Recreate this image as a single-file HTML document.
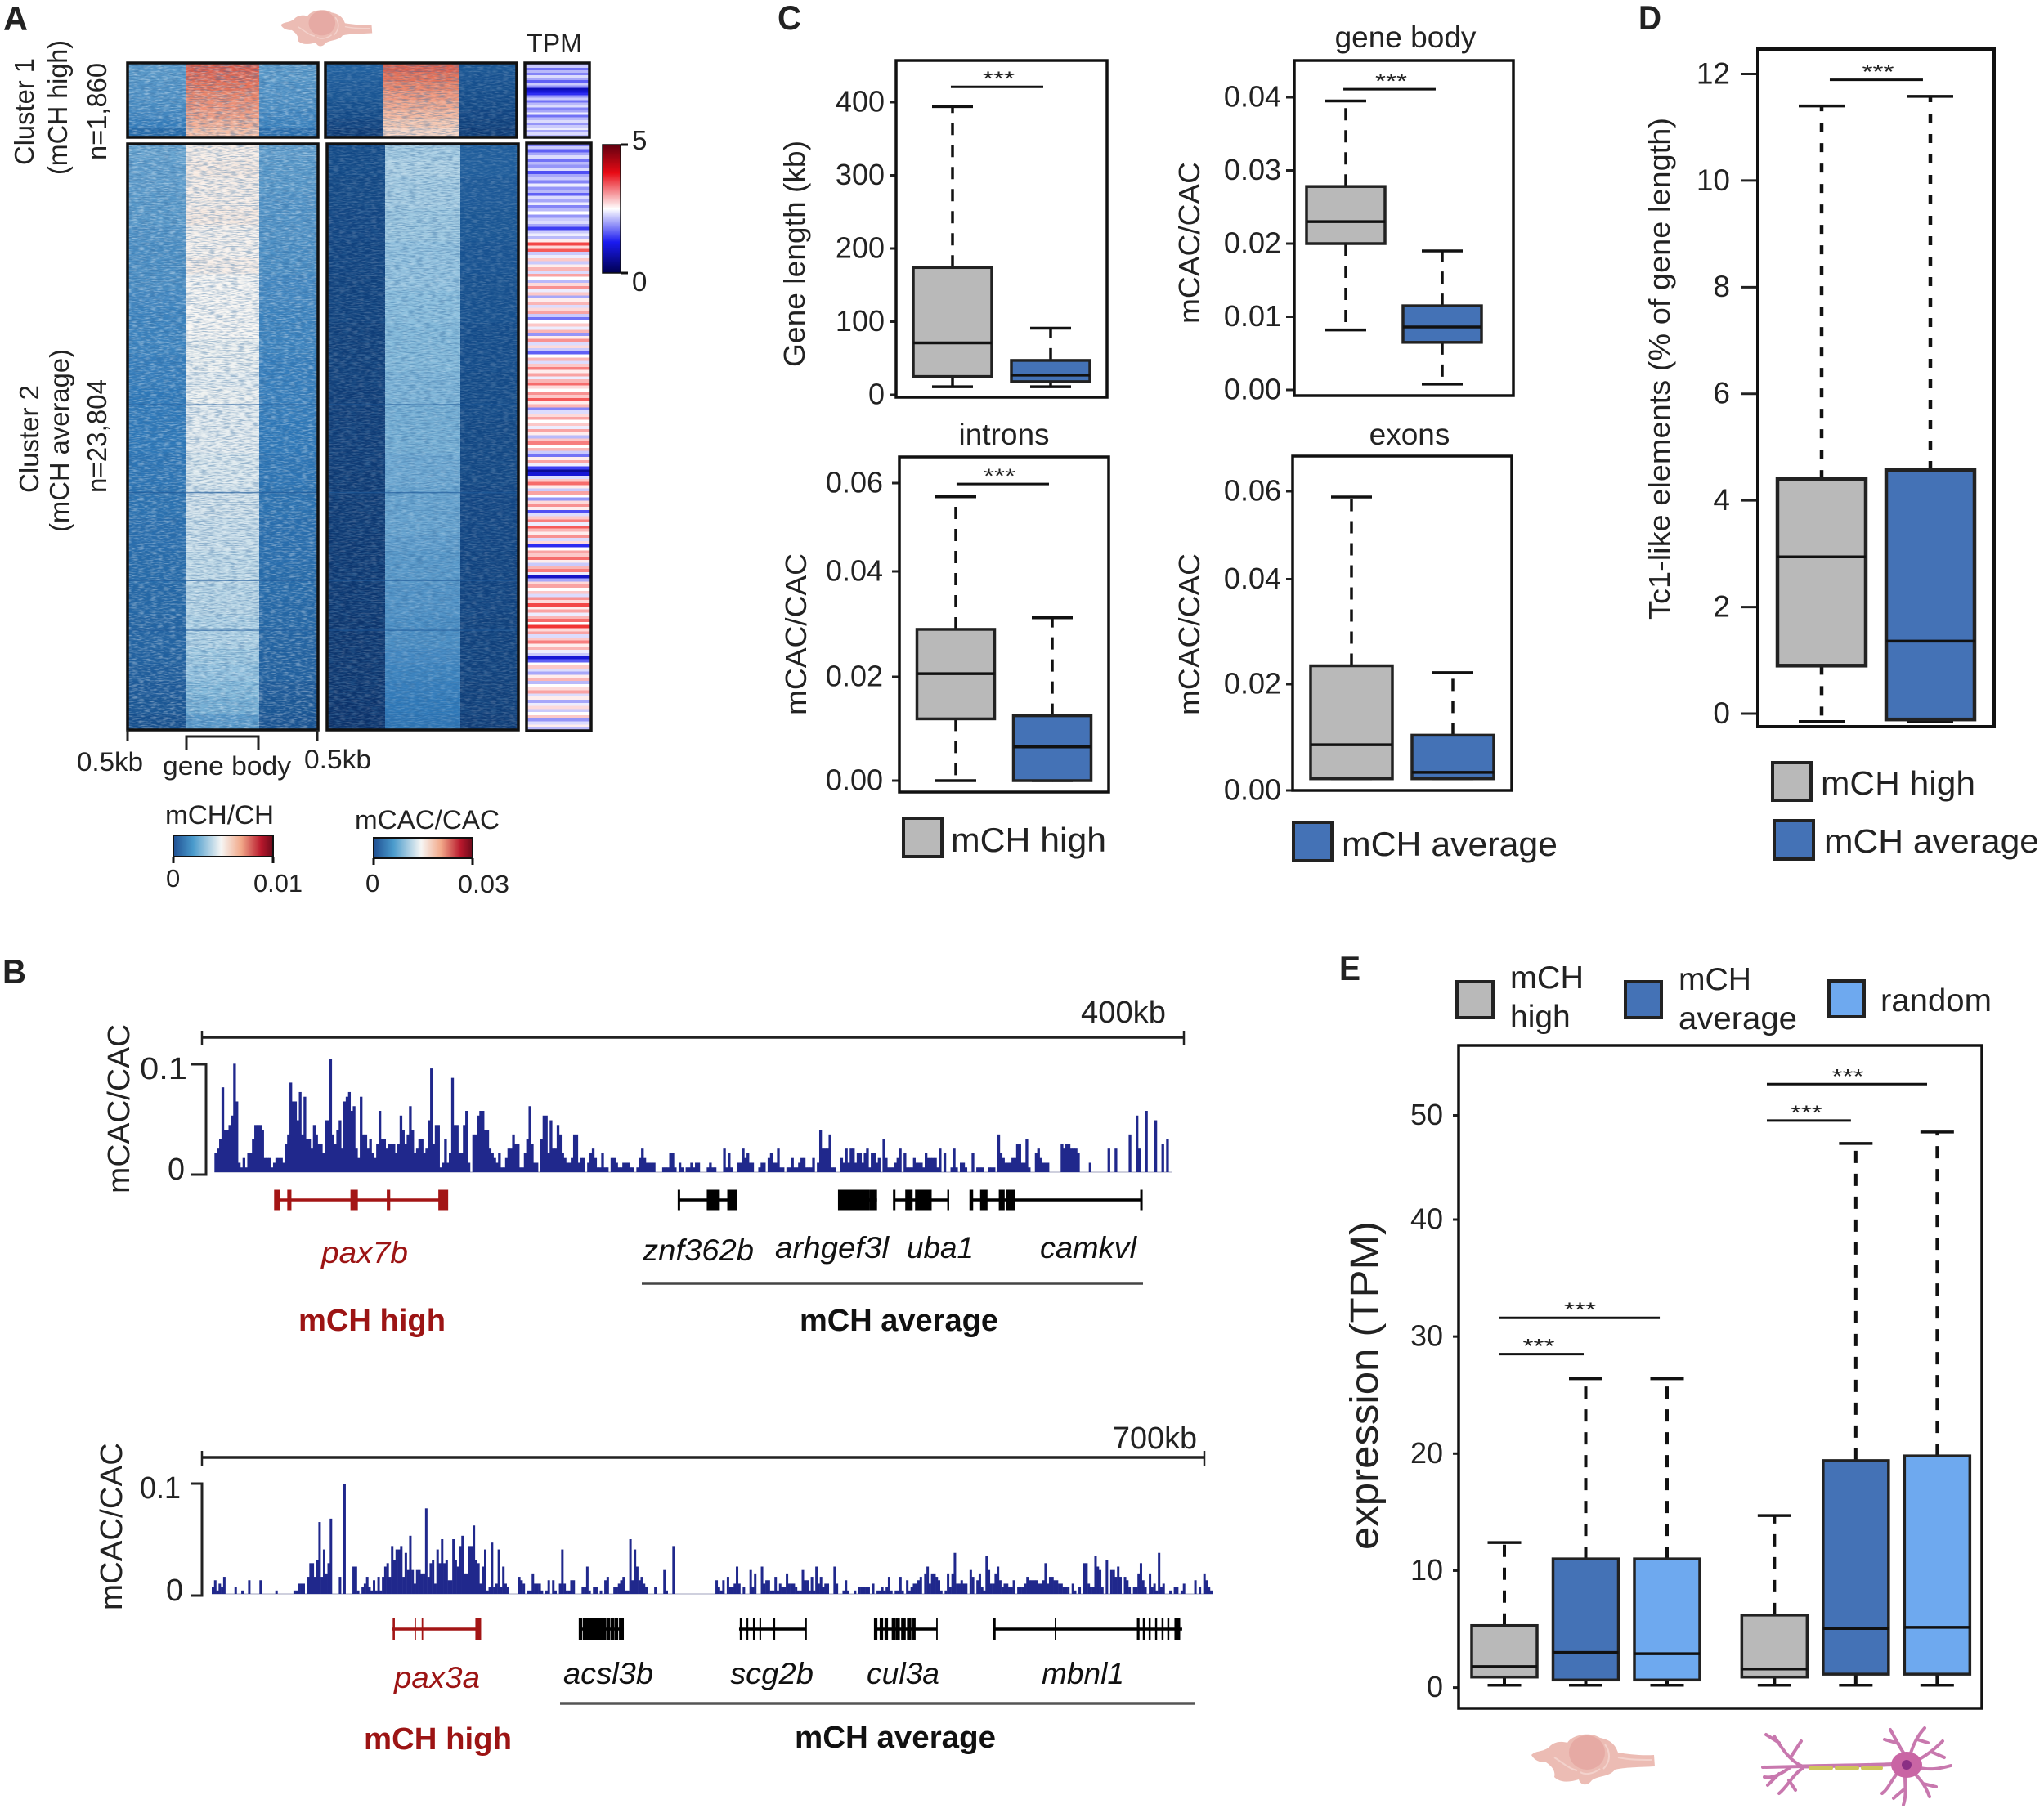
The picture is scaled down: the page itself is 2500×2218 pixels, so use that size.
<!DOCTYPE html>
<html lang="en">
<head>
<meta charset="utf-8">
<title>mCH high and mCH average gene clusters</title>
<style>
html,body{margin:0;padding:0;background:#fff;}
svg{display:block;}
text{font-family:"Liberation Sans",sans-serif;fill:#222;}
.ital{font-style:italic;fill:#111;}
.bold{font-weight:bold;}
.red{fill:#9c1414;}
</style>
</head>
<body>
<svg id="fig" xmlns="http://www.w3.org/2000/svg" width="2500" height="2218" viewBox="0 0 2500 2218">
<defs>
  <linearGradient id="gradMch" x1="0" x2="1" y1="0" y2="0">
    <stop offset="0" stop-color="#1f4f92"/><stop offset=".2" stop-color="#4a9bcc"/><stop offset=".48" stop-color="#f6f6f4"/><stop offset=".68" stop-color="#f2a98a"/><stop offset=".88" stop-color="#b8182c"/><stop offset="1" stop-color="#6b0a1a"/>
  </linearGradient>
  <linearGradient id="gradTpm" x1="0" x2="0" y1="0" y2="1">
    <stop offset="0" stop-color="#600010"/><stop offset=".22" stop-color="#e80a14"/><stop offset=".5" stop-color="#ffffff"/><stop offset=".76" stop-color="#1a1af0"/><stop offset="1" stop-color="#000050"/>
  </linearGradient>
  <filter id="noiseLight" x="0" y="0" width="100%" height="100%">
    <feTurbulence type="fractalNoise" baseFrequency="0.13 0.62" numOctaves="2" seed="4"/>
    <feColorMatrix type="matrix" values="0 0 0 0 1  0 0 0 0 1  0 0 0 0 1  3.6 0 0 0 -1.6"/>
  </filter>
  <filter id="noiseDark" x="0" y="0" width="100%" height="100%">
    <feTurbulence type="fractalNoise" baseFrequency="0.11 0.7" numOctaves="2" seed="11"/>
    <feColorMatrix type="matrix" values="0 0 0 0 .03  0 0 0 0 .14  0 0 0 0 .34  3.6 0 0 0 -1.55"/>
  </filter>
  <g id="brainShape">
    <path d="M2 27 C8 21 16 24 24 17 C30 10 40 10 46 12 C52 2 74 -2 86 6 C96 8 104 12 108 24 C120 26 136 28 152 27 L153 41 C134 42 116 42 104 45 C98 54 84 52 76 58 C70 66 62 64 60 57 C50 60 38 62 30 54 C32 46 26 40 20 36 C12 36 6 34 2 27 Z" fill="#ecbcb4"/>
    <ellipse cx="70" cy="24" rx="22" ry="21" fill="#e6aaa4"/>
    <path d="M30 30 C40 36 48 44 58 46 M92 14 C98 22 100 34 90 44 M62 48 C68 52 78 50 86 44 M108 30 C122 33 136 33 150 33" fill="none" stroke="#f3d2cc" stroke-width="2"/>
  </g>
</defs>

<rect width="2500" height="2218" fill="#fff"/>

<!-- Panel letters -->
<text class="bold" x="4" y="37" font-size="42" textLength="30" lengthAdjust="spacingAndGlyphs">A</text>
<text class="bold" x="3" y="1203" font-size="42" textLength="29" lengthAdjust="spacingAndGlyphs">B</text>
<text class="bold" x="951" y="36" font-size="42" textLength="29" lengthAdjust="spacingAndGlyphs">C</text>
<text class="bold" x="2004" y="36" font-size="42" textLength="28" lengthAdjust="spacingAndGlyphs">D</text>
<text class="bold" x="1638" y="1199" font-size="42" textLength="26" lengthAdjust="spacingAndGlyphs">E</text>

<!-- Panel A static -->
<use href="#brainShape" transform="translate(342 11) scale(.74 .72)"/>
<text x="644" y="64" font-size="32" textLength="68" lengthAdjust="spacingAndGlyphs">TPM</text>
<g id="panelA"></g>

<text transform="translate(41 202) rotate(-90)" font-size="33" textLength="131" lengthAdjust="spacingAndGlyphs">Cluster 1</text>
<text transform="translate(82 214) rotate(-90)" font-size="33" textLength="165" lengthAdjust="spacingAndGlyphs">(mCH high)</text>
<text transform="translate(130 196) rotate(-90)" font-size="33" textLength="119" lengthAdjust="spacingAndGlyphs">n=1,860</text>
<text transform="translate(47 603) rotate(-90)" font-size="33" textLength="132" lengthAdjust="spacingAndGlyphs">Cluster 2</text>
<text transform="translate(84 651) rotate(-90)" font-size="33" textLength="224" lengthAdjust="spacingAndGlyphs">(mCH average)</text>
<text transform="translate(130 603) rotate(-90)" font-size="33" textLength="139" lengthAdjust="spacingAndGlyphs">n=23,804</text>

<g fill="none" stroke="#222" stroke-width="3">
  <path d="M156 893V907M388 893V907M228 918V901H316V918"/>
</g>
<text x="94" y="943" font-size="32" textLength="81" lengthAdjust="spacingAndGlyphs">0.5kb</text>
<text x="372" y="940" font-size="32" textLength="82" lengthAdjust="spacingAndGlyphs">0.5kb</text>
<text x="199" y="948" font-size="32" textLength="157" lengthAdjust="spacingAndGlyphs">gene body</text>

<g>
  <rect x="737" y="177" width="22" height="157" fill="url(#gradTpm)" stroke="#111" stroke-width="1.5"/>
  <path d="M759 177H768M759 334H768" stroke="#111" stroke-width="3"/>
  <text x="773" y="183" font-size="33">5</text>
  <text x="773" y="356" font-size="33">0</text>
</g>
<g>
  <text x="202" y="1008" font-size="32" textLength="133" lengthAdjust="spacingAndGlyphs">mCH/CH</text>
  <rect x="212" y="1022" width="122" height="26" fill="url(#gradMch)" stroke="#111" stroke-width="2"/>
  <path d="M212 1048V1056M334 1048V1056" stroke="#111" stroke-width="3"/>
  <text x="203" y="1085" font-size="31">0</text>
  <text x="310" y="1091" font-size="31" textLength="60" lengthAdjust="spacingAndGlyphs">0.01</text>
</g>
<g>
  <text x="434" y="1014" font-size="32" textLength="177" lengthAdjust="spacingAndGlyphs">mCAC/CAC</text>
  <rect x="457" y="1025" width="121" height="25" fill="url(#gradMch)" stroke="#111" stroke-width="2"/>
  <path d="M457 1050V1058M578 1050V1058" stroke="#111" stroke-width="3"/>
  <text x="447" y="1091" font-size="31">0</text>
  <text x="560" y="1092" font-size="31" textLength="63" lengthAdjust="spacingAndGlyphs">0.03</text>
</g>

<!-- Panel C titles and legends -->
<text x="1719" y="58" font-size="37" text-anchor="middle">gene body</text>
<text x="1228" y="544" font-size="37" text-anchor="middle">introns</text>
<text x="1724" y="544" font-size="37" text-anchor="middle">exons</text>
<text transform="translate(984 449) rotate(-90)" font-size="36" textLength="277" lengthAdjust="spacingAndGlyphs">Gene length (kb)</text>
<text transform="translate(1467 396) rotate(-90)" font-size="36" textLength="198" lengthAdjust="spacingAndGlyphs">mCAC/CAC</text>
<text transform="translate(986 875) rotate(-90)" font-size="36" textLength="198" lengthAdjust="spacingAndGlyphs">mCAC/CAC</text>
<text transform="translate(1467 875) rotate(-90)" font-size="36" textLength="198" lengthAdjust="spacingAndGlyphs">mCAC/CAC</text>
<rect x="1105" y="1001" width="47" height="47" fill="#b9b9b9" stroke="#222" stroke-width="4"/>
<text x="1163" y="1042" font-size="42" textLength="190" lengthAdjust="spacingAndGlyphs">mCH high</text>
<rect x="1582" y="1006" width="47" height="47" fill="#4472b6" stroke="#222" stroke-width="4"/>
<text x="1641" y="1047" font-size="42" textLength="264" lengthAdjust="spacingAndGlyphs">mCH average</text>

<!-- Panel D -->
<text transform="translate(2042 758) rotate(-90)" font-size="36" textLength="614" lengthAdjust="spacingAndGlyphs">Tc1-like elements (% of gene length)</text>
<rect x="2168" y="933" width="47" height="46" fill="#b9b9b9" stroke="#222" stroke-width="4"/>
<text x="2227" y="972" font-size="41" textLength="189" lengthAdjust="spacingAndGlyphs">mCH high</text>
<rect x="2170" y="1004" width="48" height="47" fill="#4472b6" stroke="#222" stroke-width="4"/>
<text x="2231" y="1043" font-size="41" textLength="263" lengthAdjust="spacingAndGlyphs">mCH average</text>

<!-- Panel E -->
<rect x="1782" y="1201" width="44" height="44" fill="#b9b9b9" stroke="#222" stroke-width="4"/>
<text x="1847" y="1209" font-size="39" textLength="90" lengthAdjust="spacingAndGlyphs">mCH</text>
<text x="1847" y="1257" font-size="39">high</text>
<rect x="1988" y="1201" width="44" height="44" fill="#4472b6" stroke="#222" stroke-width="4"/>
<text x="2053" y="1211" font-size="39" textLength="89" lengthAdjust="spacingAndGlyphs">mCH</text>
<text x="2053" y="1259" font-size="39" textLength="145" lengthAdjust="spacingAndGlyphs">average</text>
<rect x="2237" y="1200" width="43" height="44" fill="#6ea9ef" stroke="#222" stroke-width="4"/>
<text x="2300" y="1237" font-size="39" textLength="136" lengthAdjust="spacingAndGlyphs">random</text>
<text transform="translate(1685 1896) rotate(-90)" font-size="48" textLength="402" lengthAdjust="spacingAndGlyphs">expression (TPM)</text>
<use href="#brainShape" transform="translate(1871 2120) scale(1 1)"/>
<g fill="none" stroke="#c878ae" stroke-linecap="round">
  <path d="M2205 2161C2250 2160 2290 2160 2325 2158" stroke-width="5"/>
  <path d="M2215 2163H2300" stroke="#cfc55a" stroke-width="6" stroke-dasharray="24 8"/>
  <path d="M2205 2161C2190 2155 2180 2140 2170 2124M2190 2150L2203 2130M2176 2132L2160 2122M2205 2161L2156 2162M2190 2162C2178 2170 2170 2176 2158 2174M2205 2163C2192 2172 2186 2186 2176 2194M2188 2178L2196 2190M2176 2170L2162 2184" stroke-width="4"/>
  <path d="M2332 2150C2322 2136 2318 2126 2312 2116M2322 2133L2305 2128M2336 2148C2340 2134 2345 2124 2354 2114M2345 2128L2358 2132M2344 2154C2356 2148 2366 2140 2376 2130M2362 2143L2378 2150M2345 2162C2360 2166 2372 2164 2386 2160M2342 2170C2352 2180 2356 2188 2360 2198M2352 2182L2368 2186M2330 2172C2330 2186 2332 2196 2328 2208M2330 2188L2316 2200M2320 2170C2312 2180 2310 2188 2302 2194" stroke-width="4"/>
</g>
<ellipse cx="2332" cy="2159" rx="19" ry="16" fill="#c965a4"/>
<circle cx="2332" cy="2159" r="6" fill="#8a2f84"/>

<!-- Panel B static -->
<g stroke="#222" fill="none">
  <path d="M247 1269H1448" stroke-width="3.5"/>
  <path d="M247 1261V1279M1448 1261V1279" stroke-width="2.5"/>
</g>
<text x="1322" y="1251" font-size="38" textLength="104" lengthAdjust="spacingAndGlyphs">400kb</text>
<text transform="translate(158 1460) rotate(-90)" font-size="38" textLength="207" lengthAdjust="spacingAndGlyphs">mCAC/CAC</text>
<g fill="none" stroke="#222" stroke-width="3"><path d="M234 1302H252V1437H234"/></g>
<text x="171" y="1320" font-size="38" textLength="58" lengthAdjust="spacingAndGlyphs">0.1</text>
<text x="205" y="1443" font-size="38" textLength="21" lengthAdjust="spacingAndGlyphs">0</text>
<g id="track1"></g>
<g id="genes1"></g>
<text class="ital red" x="393" y="1545" font-size="37" textLength="106" lengthAdjust="spacingAndGlyphs">pax7b</text>
<text class="ital" x="786" y="1542" font-size="37" textLength="136" lengthAdjust="spacingAndGlyphs">znf362b</text>
<text class="ital" x="948" y="1539" font-size="37" textLength="139" lengthAdjust="spacingAndGlyphs">arhgef3l</text>
<text class="ital" x="1109" y="1539" font-size="37" textLength="82" lengthAdjust="spacingAndGlyphs">uba1</text>
<text class="ital" x="1272" y="1539" font-size="37" textLength="118" lengthAdjust="spacingAndGlyphs">camkvl</text>
<path d="M785 1570H1398" stroke="#444" stroke-width="3.5"/>
<text class="bold red" x="365" y="1628" font-size="38" textLength="180" lengthAdjust="spacingAndGlyphs">mCH high</text>
<text class="bold" x="978" y="1628" font-size="38" textLength="243" lengthAdjust="spacingAndGlyphs" style="fill:#111">mCH average</text>

<g stroke="#222" fill="none">
  <path d="M247 1783H1473" stroke-width="3.5"/>
  <path d="M247 1775V1793M1473 1775V1793" stroke-width="2.5"/>
</g>
<text x="1361" y="1772" font-size="38" textLength="103" lengthAdjust="spacingAndGlyphs">700kb</text>
<text transform="translate(149 1970) rotate(-90)" font-size="38" textLength="205" lengthAdjust="spacingAndGlyphs">mCAC/CAC</text>
<g fill="none" stroke="#222" stroke-width="3"><path d="M233 1815H247V1952H233"/></g>
<text x="171" y="1833" font-size="38" textLength="50" lengthAdjust="spacingAndGlyphs">0.1</text>
<text x="203" y="1958" font-size="38" textLength="21" lengthAdjust="spacingAndGlyphs">0</text>
<g id="track2"></g>
<g id="genes2"></g>
<text class="ital red" x="482" y="2065" font-size="37" textLength="105" lengthAdjust="spacingAndGlyphs">pax3a</text>
<text class="ital" x="689" y="2060" font-size="37" textLength="110" lengthAdjust="spacingAndGlyphs">acsl3b</text>
<text class="ital" x="893" y="2060" font-size="37" textLength="102" lengthAdjust="spacingAndGlyphs">scg2b</text>
<text class="ital" x="1060" y="2060" font-size="37" textLength="89" lengthAdjust="spacingAndGlyphs">cul3a</text>
<text class="ital" x="1274" y="2060" font-size="37" textLength="101" lengthAdjust="spacingAndGlyphs">mbnl1</text>
<path d="M685 2084H1462" stroke="#555" stroke-width="3.5"/>
<text class="bold red" x="445" y="2140" font-size="38" textLength="181" lengthAdjust="spacingAndGlyphs">mCH high</text>
<text class="bold" x="972" y="2138" font-size="38" textLength="246" lengthAdjust="spacingAndGlyphs" style="fill:#111">mCH average</text>

<g id="panelBoxes"></g>
</svg>

<script>
/* ---------- Box plot values: [lower whisker, q1, median, q3, upper whisker] ---------- */
const geneLengthHigh = [11, 25, 71, 174, 394];
const geneLengthAverage = [11, 18, 27, 47, 91];
const geneLengthTicks = [0, 100, 200, 300, 400];
const geneLengthTickLabels = ['0', '100', '200', '300', '400'];

const geneBodyHigh = [0.0082, 0.020, 0.023, 0.0278, 0.0395];
const geneBodyAverage = [0.0008, 0.0065, 0.0086, 0.0115, 0.019];
const geneBodyTicks = [0, 0.01, 0.02, 0.03, 0.04];
const geneBodyTickLabels = ['0.00', '0.01', '0.02', '0.03', '0.04'];

const intronsHigh = [0, 0.0119, 0.0206, 0.029, 0.0569];
const intronsAverage = [0, 0, 0.0065, 0.0125, 0.0312];
const exonsHigh = [0.0022, 0.0022, 0.0086, 0.0235, 0.0587];
const exonsAverage = [0.0022, 0.0022, 0.0034, 0.0104, 0.0222];
const regionTicks = [0, 0.02, 0.04, 0.06];
const regionTickLabels = ['0.00', '0.02', '0.04', '0.06'];

const tc1High = [-0.15, 0.9, 2.94, 4.4, 11.4];
const tc1Average = [-0.15, -0.11, 1.36, 4.57, 11.58];
const tc1Ticks = [0, 2, 4, 6, 8, 10, 12];
const tc1TickLabels = ['0', '2', '4', '6', '8', '10', '12'];

const brainHigh = [0.2, 0.9, 1.8, 5.3, 12.4];
const brainAverage = [0.2, 0.65, 3.0, 11.0, 26.4];
const brainRandom = [0.2, 0.65, 2.9, 11.0, 26.4];
const neuronHigh = [0.2, 0.9, 1.6, 6.2, 14.7];
const neuronAverage = [0.2, 1.15, 5.05, 19.4, 47.3];
const neuronRandom = [0.2, 1.15, 5.15, 19.8, 48.4];
const expressionTicks = [0, 10, 20, 30, 40, 50];
const expressionTickLabels = ['0', '10', '20', '30', '40', '50'];

/* ---------- Genome track bin heights (integer signal levels) ---------- */
const track1Levels = [
4,5,7,18,9,9,10,12,23,15,2,1,3,1,4,4,7,10,10,10,9,3,3,3,1,2,3,3,3,2,6,8,19,15,15,11,17,8,16,7,7,5,10,8,6,6,4,11,11,24,
8,6,9,11,5,15,16,17,13,14,5,3,16,8,8,5,7,4,3,6,13,7,7,5,6,6,6,4,6,12,9,6,8,14,9,4,5,7,7,4,5,11,22,6,10,10,1,2,7,2,4,20,
10,10,4,4,10,13,2,0,8,8,12,13,13,9,9,5,4,3,2,4,1,1,3,5,5,8,6,6,1,1,4,7,14,6,2,2,0,7,12,12,4,11,5,5,10,8,4,3,2,2,3,8,8,2,3,3,0,2,4,5,3,1,1,4,1,1,0,3,3,2,1,1,2,2,2,1,1,0,1,3,5,3,2,2,2,2,0,0,0,1,1,1,4,4,1,0,2,1,0,1,1,2,1,2,2,0,0,0,1,2,1,1,0,0,0,5,1,4,1,0,0,2,2,5,3,4,2,2,0,0,1,2,2,0,3,4,2,2,5,1,1,0,1,1,3,1,1,2,3,3,1,1,1,3,
0,2,9,5,5,5,8,1,1,0,0,3,2,5,2,5,5,2,4,4,2,4,5,1,4,4,2,3,0,7,3,1,1,1,2,3,5,0,4,1,1,1,3,2,2,2,1,4,3,3,3,3,1,5,0,4,0,0,1,5,1,0,2,2,1,0,0,4,0,1,1,1,0,0,1,1,1,0,8,4,3,2,2,2,3,3,6,6,2,2,7,1,0,0,4,5,3,2,2,2,0,0,0,0,0,6,5,6,6,5,5,5,4,0,0,0,0,2,0,0,0,0,0,0,0,5,0,0,5,0,0,0,0,0,8,0,0,12,5,0,0,13,0,0,0,11,0,0,6,0,7];
const track1Step = 0.00437;

const track2Levels = [
2,4,1,3,2,5,0,0,0,0,2,0,0,1,0,0,4,0,0,0,0,4,0,0,0,0,0,0,1,0,0,0,0,0,0,0,1,1,3,3,3,0,5,9,9,5,10,21,5,13,6,9,22,0,0,0,5,0,32,0,0,0,8,8,1,0,2,3,5,2,1,4,1,5,1,5,8,9,5,14,10,13,13,14,5,12,7,17,7,3,7,7,6,6,25,5,9,10,3,13,9,16,9,10,4,4,16,10,8,14,17,6,6,14,14,20,10,9,3,8,13,1,2,15,2,3,13,2,8,3,2,0,0,0,0,5,4,3,0,1,1,6,3,3,3,1,0,
1,4,0,4,1,0,3,13,3,1,1,4,4,0,0,0,2,2,8,1,0,2,2,0,1,0,4,5,0,0,2,2,3,4,5,1,1,16,4,13,8,4,5,3,2,0,0,0,2,0,0,0,7,1,0,0,14,0,0,0,0,0,0,0,0,0,0,0,0,0,0,0,0,0,0,4,2,1,4,0,5,2,2,3,8,3,0,2,0,0,7,2,6,0,0,8,3,4,4,1,1,5,1,3,2,2,6,3,3,3,2,1,1,7,4,4,1,5,1,8,3,5,2,3,3,0,0,8,3,0,0,1,4,1,0,0,1,0,2,2,2,2,2,0,3,0,1,1,2,1,2,5,
1,0,1,1,5,1,0,4,1,2,3,3,4,5,0,6,8,3,6,6,5,4,1,0,1,6,2,6,12,3,3,4,3,3,0,7,5,0,4,6,2,1,11,7,3,3,6,8,4,2,3,3,2,2,4,0,2,2,2,3,5,4,4,4,4,3,3,4,9,3,5,5,4,4,3,3,2,2,2,0,3,1,0,2,0,9,9,3,2,2,11,8,7,2,0,10,0,7,7,5,8,5,0,5,4,2,0,2,2,6,9,4,2,0,6,2,3,1,12,2,3,0,0,1,0,2,2,0,1,3,0,0,0,0,4,0,2,0,6,4,2,1];
const track2Step = 0.003125;

/* ---------- Gene models: line [start, end] and exons [centre, width], in kb ---------- */
const pax7bLine = [30, 100];
const pax7bExons = [[30.6,2.4],[35.6,1.7],[62,3],[76,1.4],[98.3,4]];
const znf362bLine = [194, 218];
const znf362bExons = [[194.3,1],[208.3,5.3],[216,4]];
const arhgef3lLine = [259.5, 275];
const arhgef3lExons = [[260.5,2.8],[263.5,2.8],[265.8,2.6],[268.2,2.6],[270.5,2.6],[273.4,3.2]];
const uba1Line = [282, 304];
const uba1Exons = [[282,1],[288,3],[291.5,2],[294.6,5.3],[304,.8]];
const camkvlLine = [313, 382.7];
const camkvlExons = [[313.4,1.5],[318.5,3],[325.8,2.4],[329.4,3.5],[382.7,1]];

const pax3aLine = [133, 194.2];
const pax3aExons = [[134,1.5],[149,1],[154,1],[193,4]];
const acsl3bLine = [264.4, 294.7];
const acsl3bExons = [[264.4,2.4],[267.3,2.6],[269.6,2.6],[271.8,2.6],[274.1,2.6],[276.4,2.6],[278.7,2.6],[281,2.6],[283.8,2.6],[286.7,2.6],[289.5,2.6],[293,3.4]];
const scg2bLine = [375.2, 422];
const scg2bExons = [[376.4,1.4],[381,1.2],[385.5,1.2],[390,1.2],[399.8,1.2],[422,1]];
const cul3aLine = [469.5, 513.4];
const cul3aExons = [[470.6,2.4],[474.6,2.4],[478,2.4],[483.1,2.6],[486,3],[490,3.2],[494,3],[497.4,2.2],[513.4,1]];
const mbnl1Line = [553.4, 684.7];
const mbnl1Exons = [[553.4,2],[596.2,1],[654,1.8],[657.9,1.4],[662,1.4],[666.5,1.4],[671,1.4],[675,1.4],[681.3,4]];

/* ---------- Heatmap rows: [left flank, gene body, right flank], colour value 0–1 ---------- */
const mchCluster1Rows = [[.31,.80,.31],[.31,.78,.31],[.30,.76,.30],[.30,.73,.30],[.29,.71,.29],[.28,.69,.28],[.26,.66,.27],[.21,.63,.22]];
const mchCluster2Rows = [[.33,.52,.32],[.32,.53,.31],[.32,.52,.31],[.31,.52,.30],[.31,.53,.30],[.30,.51,.30],[.29,.51,.29],[.29,.52,.29],[.29,.50,.28],[.28,.50,.28],[.27,.50,.27],[.27,.50,.27],[.27,.49,.27],[.26,.49,.26],[.26,.48,.26],[.25,.49,.26],[.25,.48,.26],[.25,.48,.25],[.25,.48,.25],[.24,.47,.24],[.24,.47,.24],[.23,.46,.23],[.23,.46,.23],[.22,.45,.22],[.22,.45,.22],[.21,.44,.22],[.21,.44,.21],[.20,.43,.21],[.20,.43,.20],[.19,.42,.20],[.19,.42,.19],[.18,.40,.18],[.17,.39,.18],[.16,.37,.16],[.15,.35,.15],[.13,.31,.14]];
const mcacCluster1Rows = [[.18,.79,.15],[.17,.76,.14],[.16,.73,.13],[.15,.70,.12],[.13,.67,.11],[.11,.64,.09],[.08,.61,.07],[.05,.58,.05]];
const mcacCluster2Rows = [[.11,.41,.17],[.11,.42,.17],[.10,.41,.16],[.10,.41,.16],[.09,.40,.15],[.09,.40,.15],[.08,.39,.14],[.08,.39,.14],[.07,.39,.13],[.07,.38,.13],[.07,.38,.13],[.06,.37,.12],[.06,.37,.12],[.06,.37,.12],[.06,.36,.11],[.05,.36,.11],[.05,.35,.11],[.05,.35,.10],[.05,.35,.10],[.05,.34,.10],[.04,.34,.10],[.04,.33,.09],[.04,.33,.09],[.04,.33,.09],[.03,.32,.09],[.03,.31,.08],[.03,.31,.08],[.03,.30,.08],[.03,.30,.08],[.02,.29,.07],[.02,.29,.07],[.02,.28,.07],[.02,.27,.07],[.02,.26,.06],[.01,.25,.06],[.01,.24,.05]];
const heatDarkRowFractions = [0.445, 0.595, 0.745, 0.83];

/* ---------- TPM stripes (0–5) ---------- */
const tpmCluster1 = [1.9,2.2,1.7,2.1,1.8,2.3,2.0,1.6,2.2,1.9,0.8,1.0,1.3,1.9,2.2,1.7,2.1,2.3,1.8,2.0,2.4,1.7,2.1,2.3,1.9,2.2,2.4,2.0,2.3,2.1];
const tpmCluster2 = [
1.8,2.2,1.6,2.0,2.3,1.7,2.1,1.9,2.3,1.5,2.0,2.2,1.8,2.4,1.9,2.1,1.6,2.3,2.0,2.4,1.8,2.1,2.5,1.9,2.2,
2.3,2.0,1.4,2.2,2.4,2.1,2.6,3.5,2.7,3.4,2.2,
2.4,2.8,2.2,2.6,2.9,2.3,3.0,2.5,2.1,2.7,3.1,2.4,2.8,2.0,2.6,2.9,2.3,2.7,3.0,2.2,1.7,2.5,2.8,2.4,2.9,1.9,2.6,3.1,2.3,
2.7,2.2,1.6,2.5,2.9,2.3,2.8,3.2,2.6,3.0,2.4,2.9,3.3,2.7,2.5,3.1,2.8,3.4,2.6,2.9,1.8,2.3,2.7,3.0,2.5,2.8,
2.4,3.0,2.6,2.1,2.8,3.2,2.5,2.9,2.2,1.7,2.6,3.0,2.4,1.4,0.5,1.0,2.3,2.8,3.3,2.6,2.2,3.0,2.5,1.9,2.7,3.1,
2.6,1.5,2.3,2.8,3.2,2.4,3.4,2.9,2.6,3.1,2.3,2.7,1.3,2.5,3.0,2.8,3.3,2.6,2.2,2.9,3.2,2.4,0.9,2.0,2.7,3.0,
2.5,2.8,2.3,3.1,2.7,3.5,2.6,3.0,2.4,2.9,3.3,2.5,3.6,2.7,3.0,2.3,2.8,3.2,2.6,2.9,2.4,
2.2,1.0,1.6,2.5,2.8,2.3,2.0,2.6,2.9,2.1,2.5,2.7,3.0,2.3,2.6,2.0,2.4,2.7,2.2,2.5,2.8,1.9,2.3,2.6,2.1];

/* ---------- Helpers ---------- */
const NS = 'http://www.w3.org/2000/svg';
function add(parent, tag, attrs, name) {
  const el = document.createElementNS(NS, tag);
  
  
  for (const k in attrs) el.setAttribute(k, attrs[k]);
  parent.appendChild(el);
  return el;
}
function hexToRgb(h) { return [parseInt(h.slice(1,3),16), parseInt(h.slice(3,5),16), parseInt(h.slice(5,7),16)]; }
function colormap(stops) {
  return function (v) {
    if (v <= stops[0][0]) return stops[0][1];
    for (let i = 1; i < stops.length; i++) {
      if (v <= stops[i][0]) {
        const t = (v - stops[i-1][0]) / (stops[i][0] - stops[i-1][0]);
        const a = hexToRgb(stops[i-1][1]), b = hexToRgb(stops[i][1]);
        return 'rgb(' + a.map((c, j) => Math.round(c + (b[j] - c) * t)).join(',') + ')';
      }
    }
    return stops[stops.length-1][1];
  };
}
function piecewise(domain, range) {
  return function (v) {
    let i = 1;
    while (i < domain.length - 1 && v > domain[i]) i++;
    const t = (v - domain[i-1]) / (domain[i] - domain[i-1]);
    return range[i-1] + t * (range[i] - range[i-1]);
  };
}

/* ---------- Panel A ---------- */
const heatColor = colormap([[0,'#0a2f66'],[.12,'#134a88'],[.25,'#2f79b9'],[.38,'#8dc0de'],[.5,'#f7f5f2'],[.62,'#f7c4ab'],[.75,'#e8795e'],[.88,'#c12f30'],[1,'#6b0a1a']]);
const tpmColor = colormap([[0,'#000050'],[1.2,'#1a1af0'],[2.5,'#ffffff'],[3.8,'#f01010'],[5,'#600010']]);
const panelA = document.getElementById('panelA');

function drawHeat(rows, frame, bodyL, bodyR, name, darkFractions, lightOpacity) {
  const g = add(panelA, 'g', {}, name);
  const rowH = frame.h / rows.length;
  const edges = [frame.x, bodyL, bodyR, frame.x + frame.w];
  rows.forEach(function (row, r) {
    row.forEach(function (v, c) {
      add(g, 'rect', {x: edges[c], y: frame.y + r * rowH, width: edges[c+1] - edges[c], height: rowH + 0.6, fill: heatColor(v), 'shape-rendering': 'crispEdges'}, name + '-cell');
    });
  });
  add(g, 'rect', {x: frame.x, y: frame.y, width: frame.w, height: frame.h, filter: 'url(#noiseLight)', opacity: lightOpacity}, name + '-texture-light');
  add(g, 'rect', {x: frame.x, y: frame.y, width: frame.w, height: frame.h, filter: 'url(#noiseDark)', opacity: .4}, name + '-texture-dark');
  (darkFractions || []).forEach(function (f) {
    add(g, 'line', {x1: frame.x, x2: frame.x + frame.w, y1: frame.y + f * frame.h, y2: frame.y + f * frame.h, stroke: '#1f5a9a', 'stroke-width': 1.4, opacity: .65}, name + '-dark-row');
  });
  add(g, 'rect', {x: frame.x, y: frame.y, width: frame.w, height: frame.h, fill: 'none', stroke: '#111', 'stroke-width': 3.5}, name + '-frame');
}
function drawStripes(vals, frame, name) {
  const g = add(panelA, 'g', {}, name);
  const h = frame.h / vals.length;
  vals.forEach(function (v, i) {
    add(g, 'rect', {x: frame.x, y: frame.y + i * h, width: frame.w, height: h + 0.4, fill: tpmColor(v), 'shape-rendering': 'crispEdges'}, name + '-stripe');
  });
  add(g, 'rect', {x: frame.x, y: frame.y, width: frame.w, height: frame.h, fill: 'none', stroke: '#111', 'stroke-width': 3.5}, name + '-frame');
}
drawHeat(mchCluster1Rows, {x:156,y:77,w:233,h:91}, 227, 317, 'mch-heatmap-cluster1', null, .34);
drawHeat(mchCluster2Rows, {x:156,y:176,w:233,h:717}, 227, 317, 'mch-heatmap-cluster2', heatDarkRowFractions, .34);
drawHeat(mcacCluster1Rows, {x:398,y:77,w:234,h:91}, 469, 561, 'mcac-heatmap-cluster1', null, .18);
drawHeat(mcacCluster2Rows, {x:400,y:176,w:234,h:717}, 471, 563, 'mcac-heatmap-cluster2', heatDarkRowFractions, .18);
drawStripes(tpmCluster1, {x:642,y:77,w:79,h:91}, 'tpm-heatmap-cluster1');
drawStripes(tpmCluster2, {x:644,y:175,w:79,h:719}, 'tpm-heatmap-cluster2');

/* ---------- Box plot panels ---------- */
const COLOR_HIGH = '#b9b9b9', COLOR_AVG = '#4472b6', COLOR_RAND = '#6ea9ef';
const boxesRoot = document.getElementById('panelBoxes');

function drawBoxPanel(cfg) {
  const g = add(boxesRoot, 'g', {}, cfg.name);
  const y = piecewise(cfg.yDomain, cfg.yRange);
  const x = function (pos) { return cfg.x0 + pos * cfg.step; };
  add(g, 'rect', {x: cfg.frame[0], y: cfg.frame[1], width: cfg.frame[2], height: cfg.frame[3], fill: '#fff'}, cfg.name + '-plot-area');
  cfg.ticks.forEach(function (t, i) {
    add(g, 'line', {x1: cfg.frame[0] - cfg.tickLen, x2: cfg.frame[0], y1: y(t), y2: y(t), stroke: '#222', 'stroke-width': 3}, cfg.name + '-tick');
    const label = add(g, 'text', {x: cfg.frame[0] - cfg.tickLen - cfg.labelGap, y: y(t) + cfg.fontSize * 0.32, 'text-anchor': 'end', 'font-size': cfg.fontSize}, cfg.name + '-tick-label');
    label.textContent = cfg.tickLabels[i];
  });
  cfg.series.forEach(function (s) {
    const cx = x(s.pos), v = s.values;
    const sg = add(g, 'g', {}, cfg.name + '-' + s.label);
    add(sg, 'line', {x1: cx, x2: cx, y1: y(v[3]), y2: y(v[4]), stroke: '#111', 'stroke-width': cfg.whiskerW, 'stroke-dasharray': cfg.dash}, 'upper-whisker');
    add(sg, 'line', {x1: cx, x2: cx, y1: y(v[1]), y2: y(v[0]), stroke: '#111', 'stroke-width': cfg.whiskerW, 'stroke-dasharray': cfg.dash}, 'lower-whisker');
    add(sg, 'line', {x1: cx - cfg.capW / 2, x2: cx + cfg.capW / 2, y1: y(v[4]), y2: y(v[4]), stroke: '#111', 'stroke-width': 3.5}, 'upper-cap');
    add(sg, 'line', {x1: cx - cfg.capW / 2, x2: cx + cfg.capW / 2, y1: y(v[0]), y2: y(v[0]), stroke: '#111', 'stroke-width': 3.5}, 'lower-cap');
    add(sg, 'rect', {x: cx - cfg.boxW / 2, y: y(v[3]), width: cfg.boxW, height: Math.max(0, y(v[1]) - y(v[3])), fill: s.fill, stroke: '#222', 'stroke-width': cfg.boxStroke}, 'box');
    add(sg, 'line', {x1: cx - cfg.boxW / 2, x2: cx + cfg.boxW / 2, y1: y(v[2]), y2: y(v[2]), stroke: '#111', 'stroke-width': 3.5}, 'median');
  });
  add(g, 'rect', {x: cfg.frame[0], y: cfg.frame[1], width: cfg.frame[2], height: cfg.frame[3], fill: 'none', stroke: '#111', 'stroke-width': cfg.frameW}, cfg.name + '-frame');
  (cfg.sig || []).forEach(function (b) {
    add(g, 'line', {x1: x(b.from), x2: x(b.to), y1: y(b.at), y2: y(b.at), stroke: '#111', 'stroke-width': 3}, cfg.name + '-significance-bar');
    const star = add(g, 'text', {x: (x(b.from) + x(b.to)) / 2 + (b.starDx || 0), y: y(b.at) - 1, 'text-anchor': 'middle', 'font-size': 25, textLength: 39, lengthAdjust: 'spacingAndGlyphs'}, cfg.name + '-significance-stars');
    star.textContent = '***';
  });
}

drawBoxPanel({name:'gene-length-panel', frame:[1096,74,258,412], yDomain:[0,400], yRange:[483,125], x0:1165, step:120, boxW:96, capW:50, ticks:geneLengthTicks, tickLabels:geneLengthTickLabels, tickLen:8, labelGap:6, fontSize:36, whiskerW:3.5, dash:'15 12', boxStroke:3.5, frameW:3.5,
  series:[{label:'mch-high', values:geneLengthHigh, pos:0, fill:COLOR_HIGH},{label:'mch-average', values:geneLengthAverage, pos:1, fill:COLOR_AVG}],
  sig:[{from:-0.017, to:0.925, at:421, starDx:2}]});
drawBoxPanel({name:'gene-body-panel', frame:[1583,74,268,410], yDomain:[0,0.04], yRange:[477,119], x0:1646, step:118, boxW:96, capW:50, ticks:geneBodyTicks, tickLabels:geneBodyTickLabels, tickLen:10, labelGap:6, fontSize:36, whiskerW:3.5, dash:'15 12', boxStroke:3.5, frameW:3.5,
  series:[{label:'mch-high', values:geneBodyHigh, pos:0, fill:COLOR_HIGH},{label:'mch-average', values:geneBodyAverage, pos:1, fill:COLOR_AVG}],
  sig:[{from:-0.025, to:0.932, at:0.0411, starDx:2}]});
drawBoxPanel({name:'introns-panel', frame:[1100,559,256,410], yDomain:[0,0.02,0.04,0.06], yRange:[955,828,699,591], x0:1169, step:118, boxW:95, capW:50, ticks:regionTicks, tickLabels:regionTickLabels, tickLen:9, labelGap:11, fontSize:36, whiskerW:3.5, dash:'15 12', boxStroke:3.5, frameW:3.5,
  series:[{label:'mch-high', values:intronsHigh, pos:0, fill:COLOR_HIGH},{label:'mch-average', values:intronsAverage, pos:1, fill:COLOR_AVG}],
  sig:[{from:0.008, to:0.966, at:0.0598, starDx:-4}]});
drawBoxPanel({name:'exons-panel', frame:[1581,558,268,409], yDomain:[0,0.02,0.04,0.06], yRange:[967,837,708.5,601], x0:1653, step:124, boxW:100, capW:50, ticks:regionTicks, tickLabels:regionTickLabels, tickLen:8, labelGap:6, fontSize:36, whiskerW:3.5, dash:'15 12', boxStroke:3.5, frameW:3.5,
  series:[{label:'mch-high', values:exonsHigh, pos:0, fill:COLOR_HIGH},{label:'mch-average', values:exonsAverage, pos:1, fill:COLOR_AVG}]});
drawBoxPanel({name:'tc1-panel', frame:[2150,60,289,829], yDomain:[0,12], yRange:[873,90.5], x0:2228, step:133, boxW:108, capW:56, ticks:tc1Ticks, tickLabels:tc1TickLabels, tickLen:20, labelGap:14, fontSize:37, whiskerW:4.5, dash:'11 14', boxStroke:4.5, frameW:4,
  series:[{label:'mch-high', values:tc1High, pos:0, fill:COLOR_HIGH},{label:'mch-average', values:tc1Average, pos:1, fill:COLOR_AVG}],
  sig:[{from:0.075, to:0.932, at:11.89, starDx:2}]});
drawBoxPanel({name:'expression-panel', frame:[1784,1279,640,811], yDomain:[0,40,50], yRange:[2064.6,1492,1364.5], x0:1840, step:99.5, boxW:80, capW:41, ticks:expressionTicks, tickLabels:expressionTickLabels, tickLen:7, labelGap:12, fontSize:36, whiskerW:4, dash:'15 13', boxStroke:3.5, frameW:3.5,
  series:[
    {label:'brain-mch-high', values:brainHigh, pos:0, fill:COLOR_HIGH},
    {label:'brain-mch-average', values:brainAverage, pos:1, fill:COLOR_AVG},
    {label:'brain-random', values:brainRandom, pos:2, fill:COLOR_RAND},
    {label:'neuron-mch-high', values:neuronHigh, pos:3.32, fill:COLOR_HIGH},
    {label:'neuron-mch-average', values:neuronAverage, pos:4.32, fill:COLOR_AVG},
    {label:'neuron-random', values:neuronRandom, pos:5.32, fill:COLOR_RAND}],
  sig:[{from:-0.07, to:1.91, at:31.6, starDx:1},{from:-0.07, to:0.975, at:28.5, starDx:-3},{from:3.226, to:5.196, at:53, starDx:1},{from:3.226, to:4.26, at:49.5, starDx:-3}]});

/* ---------- Genome tracks ---------- */
function drawTrack(id, levels, step, cfg) {
  const g = document.getElementById(id);
  const y = function (v) { return cfg.base - v / 0.1 * (cfg.base - cfg.top); };
  const x = function (i) { return cfg.x0 + i * cfg.bin; };
  add(g, 'line', {x1: cfg.x0, x2: cfg.xEnd, y1: cfg.base, y2: cfg.base, stroke: '#bfc0d4', 'stroke-width': 1.6}, id + '-baseline');
  levels.forEach(function (lv, i) {
    if (lv <= 0) return;
    const v = lv * step;
    add(g, 'rect', {x: x(i), y: y(v), width: cfg.barW, height: cfg.base - y(v), fill: '#20288c'}, id + '-bar');
  });
}
drawTrack('track1', track1Levels, track1Step, {base:1434, top:1302, x0:262.3, bin:2.867, barW:3.3, xEnd:1434});
drawTrack('track2', track2Levels, track2Step, {base:1950, top:1816, x0:259, bin:2.775, barW:3.0, xEnd:1484});

function drawGene(id, line, exons, cfg, color, name) {
  const g = document.getElementById(id);
  const x = function (kb) { return cfg.x0 + kb * cfg.pxPerKb; };
  add(g, 'line', {x1: x(line[0]), x2: x(line[1]), y1: cfg.y, y2: cfg.y, stroke: color, 'stroke-width': 3.5}, name + '-intron-line');
  exons.forEach(function (e) {
    const w = Math.max(1.8, e[1] * cfg.pxPerKb);
    add(g, 'rect', {x: x(e[0]) - w / 2, y: cfg.y - cfg.h / 2, width: w, height: cfg.h, fill: color}, name + '-exon');
  });
}
const axis1 = {x0:247, pxPerKb:3.0025, y:1468, h:25};
const axis2 = {x0:247, pxPerKb:1.751, y:1993, h:26};
drawGene('genes1', pax7bLine, pax7bExons, axis1, '#a31515', 'pax7b');
drawGene('genes1', znf362bLine, znf362bExons, axis1, '#000', 'znf362b');
drawGene('genes1', arhgef3lLine, arhgef3lExons, axis1, '#000', 'arhgef3l');
drawGene('genes1', uba1Line, uba1Exons, axis1, '#000', 'uba1');
drawGene('genes1', camkvlLine, camkvlExons, axis1, '#000', 'camkvl');
drawGene('genes2', pax3aLine, pax3aExons, axis2, '#a31515', 'pax3a');
drawGene('genes2', acsl3bLine, acsl3bExons, axis2, '#000', 'acsl3b');
drawGene('genes2', scg2bLine, scg2bExons, axis2, '#000', 'scg2b');
drawGene('genes2', cul3aLine, cul3aExons, axis2, '#000', 'cul3a');
drawGene('genes2', mbnl1Line, mbnl1Exons, axis2, '#000', 'mbnl1');
</script>
</body>
</html>
